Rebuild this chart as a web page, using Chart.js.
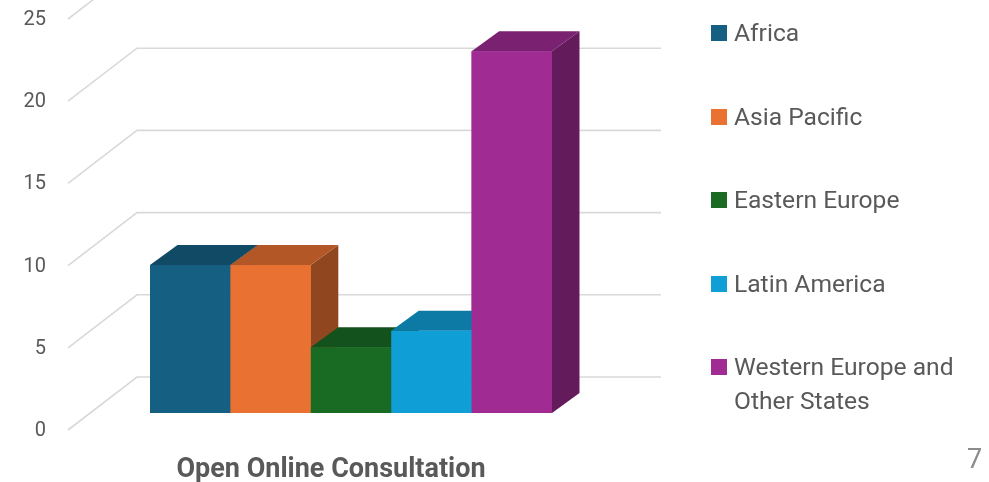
<!DOCTYPE html>
<html>
<head>
<meta charset="utf-8">
<script src="https://cdn.jsdelivr.net/npm/chart.js@4"></script>
<style>
  body { margin: 0; background: #fff; }
  #marco { position: relative; width: 989px; height: 482px; overflow: hidden; }
  #leyenda { position: absolute; left: 711px; top: 0; font-family: Roboto, sans-serif; font-size: 24.6px; color: #595959; }
  .item { position: absolute; left: 0; white-space: nowrap; line-height: 34px; }
  .item span.caja { position: absolute; left: 0; top: 9px; width: 16px; height: 16px; }
  .item span.txt { position: absolute; left: 23px; top: 0; }
  #pagina { position: absolute; left: 967px; top: 443px; font-family: Roboto, sans-serif; font-size: 27px; color: #8c8c8c; }
</style>
</head>
<body>
<div id="marco">
  <canvas id="grafica" width="989" height="482"></canvas>
  <div id="leyenda"></div>
  <div id="pagina">7</div>
</div>
<script>
// datos
const categorias = ['Open Online Consultation'];
const regiones = ['Africa', 'Asia Pacific', 'Eastern Europe', 'Latin America', 'Western Europe and Other States'];
const valores = [9, 9, 4, 5, 22];
const colores = ['#156082', '#E97132', '#196B24', '#0F9ED5', '#A02B93'];
const ticksY = [0, 5, 10, 15, 20, 25];

// oscurecer un color hex
function oscurecer(hex, f) {
    let r = parseInt(hex.substr(1, 2), 16), g = parseInt(hex.substr(3, 2), 16), b = parseInt(hex.substr(5, 2), 16);
    return `rgb(${Math.round(r * f)},${Math.round(g * f)},${Math.round(b * f)})`;
}

// plugin para el efecto 3D
const efecto3d = {
    id: 'efecto3d',
    beforeDatasetsDraw(chart) {
        const ctx = chart.ctx;
        const y = chart.scales.y;
        ctx.save();
        ctx.strokeStyle = '#d9d9d9';
        ctx.lineWidth = 1.6;
        ticksY.forEach((v) => {
            const py = y.getPixelForValue(v);
            ctx.beginPath();
            ctx.moveTo(68, py + 17);
            ctx.lineTo(137, py - 36);
            ctx.lineTo(661, py - 36);
            ctx.stroke();
        });
        ctx.restore();
    },
    afterDatasetsDraw(chart) {
        const ctx = chart.ctx;
        const dx = 27.5, dy = -20;
        ctx.save();
        chart.data.datasets.forEach((ds, i) => {
            const bar = chart.getDatasetMeta(i).data[0];
            const x0 = bar.x - bar.width / 2, x1 = bar.x + bar.width / 2;
            const top = bar.y, base = bar.base;
            const col = colores[i];
            // lado
            ctx.fillStyle = oscurecer(col, 0.62);
            ctx.beginPath();
            ctx.moveTo(x1, top); ctx.lineTo(x1 + dx, top + dy);
            ctx.lineTo(x1 + dx, base + dy); ctx.lineTo(x1, base);
            ctx.closePath(); ctx.fill();
            // techo
            ctx.fillStyle = oscurecer(col, 0.77);
            ctx.beginPath();
            ctx.moveTo(x0, top); ctx.lineTo(x0 + dx, top + dy);
            ctx.lineTo(x1 + dx, top + dy); ctx.lineTo(x1, top);
            ctx.closePath(); ctx.fill();
            // frente
            ctx.fillStyle = col;
            ctx.fillRect(x0, top, x1 - x0, base - top);
        });
        ctx.restore();
    }
};

const datasets = regiones.map((r, i) => ({
    label: r,
    data: [valores[i]],
    backgroundColor: colores[i],
    borderWidth: 0
}));

new Chart(document.getElementById('grafica'), {
    type: 'bar',
    data: { labels: categorias, datasets: datasets },
    plugins: [efecto3d],
    options: {
        responsive: false,
        animation: false,
        layout: { padding: { left: 0, right: 355, top: 2, bottom: 0 } },
        plugins: { legend: { display: false }, tooltip: { enabled: false } },
        datasets: { bar: { barPercentage: 1, categoryPercentage: 0.7102 } },
        scales: {
            x: {
                grid: { display: false },
                border: { display: false },
                ticks: { color: '#595959', padding: 33, labelOffset: -20, font: { family: 'Roboto', size: 27, weight: 'bold' } },
                afterFit: (s) => { s.height = 69; s.paddingLeft = 0; s.paddingRight = 0; }
            },
            y: {
                min: 0,
                max: 25,
                afterBuildTicks: (s) => { s.ticks = ticksY.map((v) => ({ value: v })); },
                grid: { display: false },
                border: { display: false },
                ticks: { color: '#595959', padding: 14, labelOffset: 18, font: { family: 'Roboto', size: 20 } },
                afterFit: (s) => { s.width = 68; s.paddingTop = 0; s.paddingBottom = 0; }
            }
        }
    }
});

// leyenda en html
const leyenda = document.getElementById('leyenda');
regiones.forEach((r, i) => {
    const centro = 33 + 83.6 * i;
    let texto = r;
    if (r === 'Western Europe and Other States') texto = 'Western Europe and<br>Other States';
    leyenda.innerHTML += `<div class="item" style="top:${centro - 17}px"><span class="caja" style="background:${colores[i]}"></span><span class="txt">${texto}</span></div>`;
});
</script>
</body>
</html>
